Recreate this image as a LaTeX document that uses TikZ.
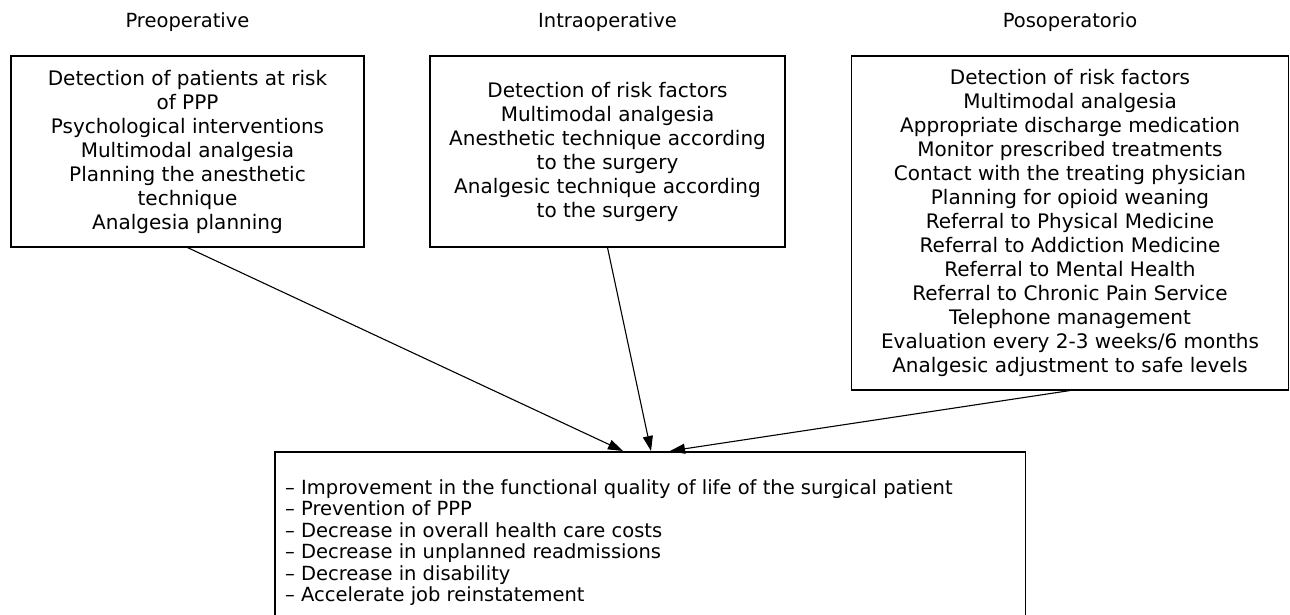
\documentclass[tikz,border=0pt]{standalone}
\usepackage{fontspec}
\setmainfont{DejaVu Sans}
\usetikzlibrary{arrows.meta}
\begin{document}
\begin{tikzpicture}[x=1pt,y=-1pt,
  box/.style={draw, line width=1.1pt, inner sep=0pt, align=center, font=\fontsize{20}{24}\selectfont},
  hdr/.style={anchor=base, inner sep=0pt, font=\fontsize{19.5}{24}\selectfont},
  arr/.style={line width=1.1pt, -{Triangle[length=15pt,width=10pt]}}]
\useasboundingbox (0,0) rectangle (1290,615);
% headers
\node[hdr] (h1) at (187.5,28) {Preoperative};
\node[hdr] (h2) at (607.5,28) {Intraoperative};
\node[hdr] (h3) at (1070,28) {Posoperatorio};
% top boxes
\node[box, minimum width=353pt, minimum height=191pt] (b1) at (187.5,151.5)
  {Detection of patients at risk\\of PPP\\Psychological interventions\\Multimodal analgesia\\Planning the anesthetic\\technique\\Analgesia planning};
\node[box, minimum width=355pt, minimum height=191pt] (b2) at (607.5,151.5)
  {Detection of risk factors\\Multimodal analgesia\\Anesthetic technique according\\to the surgery\\Analgesic technique according\\to the surgery};
\node[box, minimum width=437pt, minimum height=334pt] (b3) at (1070,223)
  {Detection of risk factors\\Multimodal analgesia\\Appropriate discharge medication\\Monitor prescribed treatments\\Contact with the treating physician\\Planning for opioid weaning\\Referral to Physical Medicine\\Referral to Addiction Medicine\\Referral to Mental Health\\Referral to Chronic Pain Service\\Telephone management\\Evaluation every 2-3 weeks/6 months\\Analgesic adjustment to safe levels};
% bottom box (open at the page bottom)
\node[minimum width=750pt, minimum height=164pt, inner sep=0pt, anchor=north west] (out) at (275,452) {};
\draw[line width=1.1pt] (out.south west) -- (out.north west) -- (out.north east) -- (out.south east);
\node[anchor=north west, inner sep=0pt, align=left, font=\fontsize{19.5}{21.5}\selectfont] (outtxt) at (285,479)
  {– Improvement in the functional quality of life of the surgical patient\\– Prevention of PPP\\– Decrease in overall health care costs\\– Decrease in unplanned readmissions\\– Decrease in disability\\– Accelerate job reinstatement};
% arrow tips
\coordinate (t1) at (623,451);
\coordinate (t2) at (651,451);
\coordinate (t3) at (670,451);
\draw[arr] (b1.south) -- (t1);
\draw[arr] (b2.south) -- (t2);
\draw[arr] (b3.south) -- (t3);
\end{tikzpicture}
\end{document}
